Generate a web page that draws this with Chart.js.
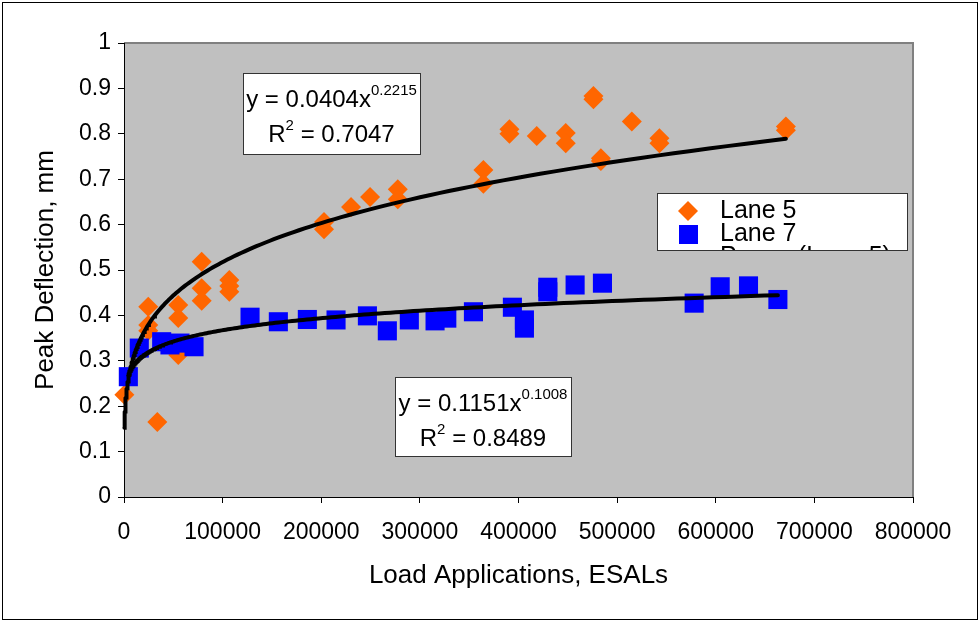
<!DOCTYPE html>
<html>
<head>
<meta charset="utf-8">
<script src="https://cdn.jsdelivr.net/npm/chart.js@4.4.1/dist/chart.umd.min.js"></script>
<style>
  html, body { margin: 0; padding: 0; background: #fff; }
  #wrap { width: 980px; height: 621px; }
</style>
</head>
<body>
<div id="wrap"><canvas id="c" width="980" height="621"></canvas></div>
<script>
// Peak deflection measurements against accumulated load applications
const lane5Esals = [400, 24600, 24600, 24600, 33800, 55000, 55000, 55000, 78800, 78800, 78800,
  106800, 106800, 106800, 202800, 202800, 230200, 249500, 277600, 277600, 364400, 364400,
  390800, 390800, 418500, 447900, 447900, 476000, 476000, 483500, 483500, 514900,
  542900, 542900, 671100, 671100];
const lane5Deflection = [0.225, 0.419, 0.379, 0.366, 0.165, 0.423, 0.394, 0.313, 0.518, 0.460, 0.432,
  0.478, 0.465, 0.452, 0.606, 0.590, 0.639, 0.661, 0.678, 0.656, 0.720, 0.690,
  0.810, 0.800, 0.795, 0.802, 0.779, 0.883, 0.876, 0.746, 0.740, 0.827,
  0.790, 0.779, 0.816, 0.808];

const lane7Esals = [4400, 15500, 38200, 46600, 56800, 71000, 127800, 156500, 185900, 215000,
  246800, 267000, 289300, 315400, 327300, 354300, 393800, 406000, 406000, 429700, 429700,
  457400, 485100, 578100, 604500, 633200, 663000];
const lane7Deflection = [0.265, 0.328, 0.342, 0.335, 0.339, 0.331, 0.396, 0.386, 0.391, 0.390,
  0.399, 0.366, 0.390, 0.388, 0.394, 0.408, 0.418, 0.390, 0.372, 0.462, 0.452,
  0.467, 0.471, 0.427, 0.463, 0.465, 0.435];

// Power-law fits  y = a * x^b
const lane5Fit = { a: 0.0404, b: 0.2215, r2: 0.7047 };
const lane7Fit = { a: 0.1151, b: 0.1008, r2: 0.8489 };

const xTicks = [0, 100000, 200000, 300000, 400000, 500000, 600000, 700000, 800000];
const yTicks = [0, 0.1, 0.2, 0.3, 0.4, 0.5, 0.6, 0.7, 0.8, 0.9, 1];

const FONT = '"Liberation Sans", Arial, Helvetica, sans-serif';

function toPoints(xs, ys) { return xs.map((x, i) => ({ x: x, y: ys[i] })); }

// Sample a fitted curve over the range of its data, denser near the origin
function fitCurve(fit, xs) {
  const lo = Math.min(...xs), hi = Math.max(...xs);
  const n = 240, pts = [];
  for (let i = 0; i <= n; i++) {
    const x = lo * Math.pow(hi / lo, i / n);
    pts.push({ x: x, y: fit.a * Math.pow(x, fit.b) });
  }
  return pts;
}

// Plot background, plot frame and outer frame
const frame = {
  id: 'frame',
  beforeDraw(chart) {
    const ctx = chart.ctx, a = chart.chartArea;
    ctx.save();
    ctx.fillStyle = '#ffffff';
    ctx.fillRect(0, 0, chart.width, chart.height);
    ctx.fillStyle = '#c0c0c0';
    ctx.fillRect(a.left, a.top, a.right - a.left, a.bottom - a.top);
    ctx.strokeStyle = '#808080';
    ctx.lineWidth = 2;
    ctx.beginPath();
    ctx.moveTo(a.left, a.top);
    ctx.lineTo(a.right, a.top);
    ctx.lineTo(a.right, a.bottom);
    ctx.stroke();
    ctx.strokeStyle = '#000000';
    ctx.lineWidth = 1;
    ctx.strokeRect(2.5, 2.5, chart.width - 5, chart.height - 4);
    ctx.restore();
  }
};

// Draw a line of text made of normal and superscript runs, centred on cx
function richLine(ctx, runs, cx, baseline) {
  let w = 0;
  runs.forEach(r => { ctx.font = r.sup ? '15px ' + FONT : '24px ' + FONT; w += ctx.measureText(r.t).width; });
  let x = cx - w / 2;
  runs.forEach(r => {
    ctx.font = r.sup ? '15px ' + FONT : '24px ' + FONT;
    ctx.fillText(r.t, x, r.sup ? baseline - 12 : baseline);
    x += ctx.measureText(r.t).width;
  });
}

function fmtCoef(v) { return v.toFixed(4); }

const annotations = {
  id: 'annotations',
  afterDraw(chart) {
    const ctx = chart.ctx;
    ctx.save();
    ctx.fillStyle = '#000';
    ctx.textBaseline = 'alphabetic';
    ctx.textAlign = 'left';

    // equation boxes
    const boxes = [
      { fit: lane5Fit, x: 243, y: 73, w: 177, h: 81 },
      { fit: lane7Fit, x: 395, y: 377, w: 176, h: 79 }
    ];
    boxes.forEach(b => {
      ctx.fillStyle = '#ffffff';
      ctx.fillRect(b.x, b.y, b.w, b.h);
      ctx.strokeStyle = '#333333';
      ctx.lineWidth = 1;
      ctx.strokeRect(b.x + 0.5, b.y + 0.5, b.w, b.h);
      ctx.fillStyle = '#000000';
      const cx = b.x + b.w / 2;
      richLine(ctx, [{ t: 'y = ' + fmtCoef(b.fit.a) + 'x' }, { t: fmtCoef(b.fit.b), sup: true }], cx, b.y + 34);
      richLine(ctx, [{ t: 'R' }, { t: '2', sup: true }, { t: ' = ' + fmtCoef(b.fit.r2) }], cx, b.y + 69);
    });

    // legend (its box is too short for the third entry, which is cut off)
    const L = { x: 657, y: 193, w: 250, h: 57 };
    ctx.fillStyle = '#ffffff';
    ctx.fillRect(L.x, L.y, L.w, L.h);
    ctx.save();
    ctx.beginPath();
    ctx.rect(L.x, L.y, L.w, L.h);
    ctx.clip();
    const items = chart.data.datasets.filter(d => d.legendRow !== undefined)
      .sort((p, q) => p.legendRow - q.legendRow);
    ctx.font = '25px ' + FONT;
    ctx.textBaseline = 'middle';
    const mx = 688;
    items.forEach(d => {
      const cy = L.y + 18 + d.legendRow * 23;
      if (d.pointStyle === 'rectRot') {
        ctx.fillStyle = d.backgroundColor;
        ctx.beginPath();
        ctx.moveTo(mx - 10, cy); ctx.lineTo(mx, cy - 10); ctx.lineTo(mx + 10, cy); ctx.lineTo(mx, cy + 10);
        ctx.closePath(); ctx.fill();
      } else if (d.pointStyle === 'rect') {
        ctx.fillStyle = d.backgroundColor;
        ctx.fillRect(mx - 9, cy - 9, 19, 19);
      } else {
        ctx.strokeStyle = '#000'; ctx.lineWidth = 4;
        ctx.beginPath(); ctx.moveTo(672, cy); ctx.lineTo(704, cy); ctx.stroke();
      }
      ctx.fillStyle = '#000';
      ctx.fillText(d.label, 720, cy);
    });
    ctx.restore();
    ctx.strokeStyle = '#333333';
    ctx.lineWidth = 1;
    ctx.strokeRect(L.x + 0.5, L.y + 0.5, L.w, L.h);
    ctx.restore();
  }
};

new Chart(document.getElementById('c'), {
  type: 'scatter',
  data: {
    datasets: [
      {
        label: 'Power (Lane 5)', legendRow: 2,
        data: fitCurve(lane5Fit, lane5Esals), showLine: true, pointRadius: 0,
        borderColor: '#000000', borderWidth: 4, borderCapStyle: 'round', tension: 0, order: 0, clip: false
      },
      {
        label: 'Power (Lane 7)',
        data: fitCurve(lane7Fit, lane7Esals), showLine: true, pointRadius: 0,
        borderColor: '#000000', borderWidth: 4, borderCapStyle: 'round', tension: 0, order: 1, clip: false
      },
      {
        label: 'Lane 7', legendRow: 1,
        data: toPoints(lane7Esals, lane7Deflection), pointStyle: 'rect',
        pointRadius: 13.5, backgroundColor: '#0000ff', borderColor: '#0000ff', borderWidth: 0, order: 2, clip: false
      },
      {
        label: 'Lane 5', legendRow: 0,
        data: toPoints(lane5Esals, lane5Deflection), pointStyle: 'rectRot',
        pointRadius: 10, backgroundColor: '#ff6600', borderColor: '#ff6600', borderWidth: 0, order: 3, clip: false
      }
    ]
  },
  options: {
    responsive: false,
    animation: false,
    layout: { padding: { left: 0, top: 43, right: 67, bottom: 0 } },
    plugins: { legend: { display: false }, tooltip: { enabled: false } },
    scales: {
      x: {
        type: 'linear', min: 0, max: 800000,
        afterBuildTicks(s) { s.ticks = xTicks.map(v => ({ value: v })); },
        afterFit(s) { s.height = 124; },
        grid: { drawOnChartArea: false, drawTicks: true, tickLength: 6, color: '#000' },
        border: { color: '#000', width: 1 },
        ticks: { color: '#000', font: { family: FONT, size: 23 }, padding: 16, maxRotation: 0,
                 autoSkip: false, callback: v => String(v) },
        title: { display: true, text: 'Load Applications, ESALs', color: '#000',
                 font: { family: FONT, size: 26 }, padding: { top: 0, bottom: 30 } }
      },
      y: {
        type: 'linear', min: 0, max: 1,
        afterBuildTicks(s) { s.ticks = yTicks.map(v => ({ value: v })); },
        afterFit(s) { s.width = 124; },
        grid: { drawOnChartArea: false, drawTicks: true, tickLength: 6, color: '#000' },
        border: { color: '#000', width: 1 },
        ticks: { color: '#000', font: { family: FONT, size: 23 }, padding: 7,
                 callback: v => String(Math.round(v * 10) / 10) },
        title: { display: true, text: 'Peak Deflection, mm', color: '#000',
                 font: { family: FONT, size: 26 }, padding: { top: 30, bottom: 0 } }
      }
    }
  },
  plugins: [frame, annotations]
});
</script>
</body>
</html>
